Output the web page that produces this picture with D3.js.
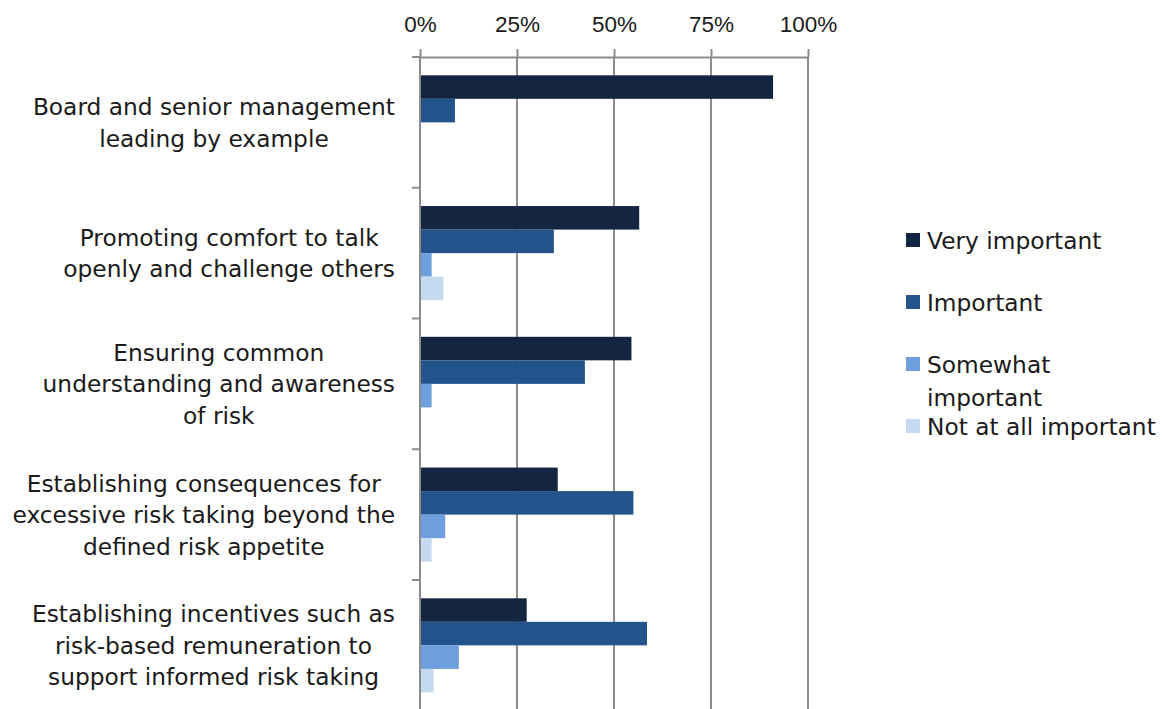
<!DOCTYPE html>
<html>
<head>
<meta charset="utf-8">
<script src="https://cdn.jsdelivr.net/npm/d3@7"></script>
<style>
  html, body { margin: 0; padding: 0; background: #fff; }
  svg { display: block; }
  text { font-family: "DejaVu Sans", sans-serif; fill: #1a1a1a; }
</style>
</head>
<body>
<svg id="chart" width="1164" height="709"></svg>
<script>
// Survey categories (each entry is the wrapped lines of the label)
const categories = [
  ["Board and senior management", "leading by example"],
  ["Promoting comfort to talk", "openly and challenge others"],
  ["Ensuring common", "understanding and awareness", "of risk"],
  ["Establishing consequences for", "excessive risk taking beyond the", "defined risk appetite"],
  ["Establishing incentives such as", "risk-based remuneration to", "support informed risk taking"]
];
const seriesNames = ["Very important", "Important", "Somewhat important", "Not at all important"];
const veryImportant     = [91, 56.5, 54.5, 35.5, 27.5];
const important         = [9, 34.5, 42.5, 55, 58.5];
const somewhatImportant = [0, 3, 3, 6.5, 10];
const notAtAll          = [0, 6, 0, 3, 3.5];
const tickValues = [0, 25, 50, 75, 100];
const colors = ["#132541", "#22538a", "#6c9fdb", "#c5d9f1"];

const seriesValues = [veryImportant, important, somewhatImportant, notAtAll];

const svg = d3.select("#chart");
const plotLeft = 420, plotRight = 808, plotTop = 57;
const bandH = 130.75;
const plotBottom = plotTop + bandH * categories.length;
const gridColor = "#8c8c8c";
const labelFont = "'DejaVu Sans', sans-serif";
const labelSize = 23.3;

const x = d3.scaleLinear().domain([0, 100]).range([plotLeft, plotRight]);
const y = d3.scaleBand().domain(d3.range(categories.length)).range([plotTop, plotBottom]).paddingInner(0.28).paddingOuter(0.14);
const ySub = d3.scaleBand().domain(d3.range(seriesNames.length)).range([0, y.bandwidth()]);

// vertical gridlines
svg.append("g").selectAll("line").data(tickValues.slice(1)).join("line")
  .attr("x1", d => x(d)).attr("x2", d => x(d))
  .attr("y1", plotTop).attr("y2", 709)
  .attr("stroke", gridColor).attr("stroke-width", 2);

// bars
const groups = svg.append("g").selectAll("g").data(categories).join("g")
  .attr("transform", (d, i) => `translate(0,${y(i)})`);
groups.selectAll("rect")
  .data((d, i) => seriesValues.map((vals, s) => ({ s, v: vals[i] })))
  .join("rect")
  .filter(d => d.v > 0)
  .attr("x", x(0))
  .attr("y", d => ySub(d.s))
  .attr("width", d => x(d.v) - x(0))
  .attr("height", ySub.bandwidth())
  .attr("fill", d => colors[d.s]);

// top axis with percentage labels
const axis = svg.append("g").attr("transform", `translate(0,${plotTop})`)
  .call(d3.axisTop(x).tickValues(tickValues).tickFormat(d => d + "%").tickSize(8).tickSizeOuter(0).tickPadding(17));
axis.select(".domain").attr("stroke", gridColor).attr("stroke-width", 2);
axis.selectAll(".tick line").attr("stroke", gridColor).attr("stroke-width", 2);
axis.selectAll(".tick text").attr("font-size", 22.5).attr("fill", "#1a1a1a")
  .style("font-family", "'Liberation Sans', Arial, sans-serif");

// left category axis line and boundary ticks
svg.append("line").attr("x1", plotLeft).attr("x2", plotLeft).attr("y1", plotTop).attr("y2", 709)
  .attr("stroke", gridColor).attr("stroke-width", 2);
svg.append("g").selectAll("line").data(d3.range(categories.length + 1)).join("line")
  .attr("x1", plotLeft - 8).attr("x2", plotLeft)
  .attr("y1", i => plotTop + i * bandH).attr("y2", i => plotTop + i * bandH)
  .attr("stroke", gridColor).attr("stroke-width", 2);

// category labels: centred lines, block right-aligned to the axis
const lineH = 31.5;
const labels = svg.append("g").selectAll("g").data(categories).join("g");
labels.each(function (lines, i) {
  const g = d3.select(this);
  const cy = plotTop + bandH * (i + 0.5);
  const t = g.selectAll("text").data(lines).join("text")
    .style("font-family", labelFont)
    .attr("font-size", labelSize)
    .attr("text-anchor", "middle")
    .attr("dominant-baseline", "central")
    .attr("y", (d, k) => cy + (k - (lines.length - 1) / 2) * lineH)
    .text(d => d);
  let maxW = 0;
  t.each(function () { maxW = Math.max(maxW, this.getComputedTextLength()); });
  t.attr("x", 395 - maxW / 2);
});

// legend
const legendRows = [
  { name: ["Very important"], y: 240 },
  { name: ["Important"], y: 302 },
  { name: ["Somewhat", "important"], y: 364 },
  { name: ["Not at all important"], y: 426 }
];
const legend = svg.append("g").selectAll("g").data(legendRows).join("g");
legend.append("rect")
  .attr("x", 906).attr("y", d => d.y - 7).attr("width", 14).attr("height", 14)
  .attr("fill", (d, i) => colors[i]);
legend.each(function (d) {
  d3.select(this).selectAll("text").data(d.name).join("text")
    .style("font-family", labelFont)
    .attr("x", 927)
    .attr("y", (t, k) => d.y + k * 33)
    .attr("dominant-baseline", "central")
    .attr("font-size", labelSize)
    .text(t => t);
});
</script>
</body>
</html>
